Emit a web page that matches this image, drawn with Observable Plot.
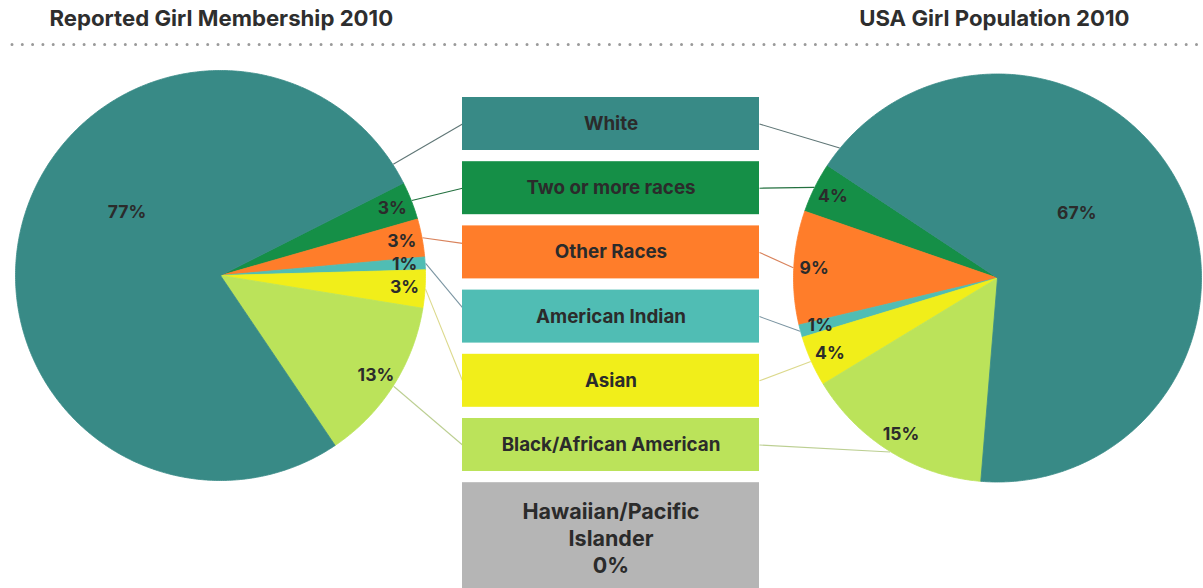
<!DOCTYPE html>
<html>
<head>
<meta charset="utf-8">
<script src="https://cdn.jsdelivr.net/npm/d3@7"></script>
<script src="https://cdn.jsdelivr.net/npm/@observablehq/plot@0.6"></script>
<style>
html, body { margin: 0; padding: 0; background: #ffffff; }
#chart { width: 1203px; height: 588px; overflow: hidden; }
</style>
</head>
<body>
<div id="chart"></div>
<script>
// ---- data ----
const categories = ["White", "Two or more races", "Other Races", "American Indian", "Asian", "Black/African American"];
const membership = [77, 3, 3, 1, 3, 13];   // Reported Girl Membership 2010 (%)
const population = [67, 4, 9, 1, 4, 15];   // USA Girl Population 2010 (%)
const otherCategory = "Hawaiian/Pacific Islander";
const otherValue = 0;
const titles = ["Reported Girl Membership 2010", "USA Girl Population 2010"];
const sliceColors = ["#388a86", "#158f47", "#ff7d2a", "#50bdb4", "#f1ee1a", "#bbe35a"];
const otherColor = "#b5b5b5";
const connectorColors = ["#5f7676", "#23703f", "#d9835c", "#7b95a2", "#dcd98c", "#bccf92"];

// ---- layout ----
const W = 1203, H = 588;
const FONT = "Inter, 'Open Sans', sans-serif";
const TEXT = "#2b2b2b";
const deg = Math.PI / 180;
const box = {x1: 462, x2: 759, top: 97, step: 64.2, h: 53, lastBottom: 610};
const pieLayout = [
  {values: membership, cx: 220, cy: 275, r: 205, start: 63.2, dir: 1, side: "left", bigAngle: 304, bigK: 0.55},
  {values: population, cx: 997, cy: 277.5, r: 204, start: 303.5, dir: -1, side: "right", bigAngle: 51, bigK: 0.5}
];
// small slices first, the large "White" slice last
const order = [1, 2, 3, 4, 5, 0];

const slicePts = [], pctLabels = [], connectors = [];
const boxCenter = i => box.top + i * box.step + box.h / 2;

pieLayout.forEach((p, pi) => {
  const arcs = d3.pie().sort(null).value(d => d.v)
    .startAngle(p.start * deg).endAngle((p.start + p.dir * 360) * deg)(
      order.map(i => ({cat: categories[i], v: p.values[i], idx: i}))
    );
  const pt = (a, rr) => ({x: p.cx + rr * Math.sin(a), y: p.cy - rr * Math.cos(a)});
  arcs.forEach(a => {
    if (a.data.v <= 0) return;
    const id = pi + "-" + a.data.cat;
    const a0 = a.startAngle, a1 = a.endAngle;
    const n = Math.max(2, Math.ceil(Math.abs(a1 - a0) / (0.5 * deg)));
    slicePts.push({id, cat: a.data.cat, x: p.cx, y: p.cy});
    for (let k = 0; k <= n; k++) {
      const q = pt(a0 + (a1 - a0) * k / n, p.r);
      slicePts.push({id, cat: a.data.cat, x: q.x, y: q.y});
    }
    slicePts.push({id, cat: a.data.cat, x: p.cx, y: p.cy});

    const isBig = a.data.idx === 0;
    const mid = (a0 + a1) / 2;
    const lp = isBig ? pt(p.bigAngle * deg, p.r * p.bigK) : pt(mid, p.r * 0.9);
    pctLabels.push({text: a.data.v + "%", x: lp.x, y: lp.y});

    const ca = isBig ? a1 - p.dir * 6 * deg : mid;
    const cp = pt(ca, p.r + 0.5);
    // left-side connectors meet the boxes a little above centre for the middle rows
    const yOff = p.side === "left" && (a.data.idx === 2 || a.data.idx === 3) ? -9 : 0;
    connectors.push({
      x1: cp.x, y1: cp.y,
      x2: p.side === "left" ? box.x1 : box.x2,
      y2: boxCenter(a.data.idx) + yOff,
      stroke: connectorColors[a.data.idx]
    });
  });
});

const boxRows = [...categories, otherCategory].map((cat, i) => ({
  cat,
  label: i < categories.length ? cat : cat.replace(" ", "\n") + "\n" + otherValue + "%",
  y1: box.top + i * box.step,
  y2: i < categories.length ? box.top + i * box.step + box.h : box.lastBottom,
  big: i >= categories.length
}));
boxRows.forEach(d => { d.yc = d.big ? 537 : (d.y1 + d.y2) / 2; });

const chart = Plot.plot({
  width: W, height: H,
  margin: 0,
  style: {fontFamily: FONT, background: "#ffffff", overflow: "hidden"},
  x: {domain: [0, W], range: [0, W], axis: null},
  y: {domain: [0, H], range: [0, H], axis: null},
  color: {domain: [...categories, otherCategory], range: [...sliceColors, otherColor]},
  marks: [
    // dotted separator
    Plot.ruleY([44], {x1: 12, x2: W, stroke: "#9a9a9a", strokeWidth: 3, strokeDasharray: "0,10.3", strokeLinecap: "round"}),
    // titles
    Plot.text([titles[0]], {x: 49, y: 18, text: d => d, textAnchor: "start", fontSize: 22.2, fontWeight: 700, fill: "#2e2e2e"}),
    Plot.text([titles[1]], {x: 1129, y: 18, text: d => d, textAnchor: "end", fontSize: 22.2, fontWeight: 700, fill: "#2e2e2e"}),
    // pie slices
    Plot.line(slicePts, {x: "x", y: "y", z: "id", fill: "cat", stroke: "cat", strokeWidth: 0.8, curve: "linear"}),
    // connector lines
    Plot.link(connectors, {x1: "x1", y1: "y1", x2: "x2", y2: "y2", stroke: "stroke", strokeWidth: 1.1}),
    // legend boxes
    Plot.rect(boxRows, {x1: box.x1, x2: box.x2, y1: "y1", y2: "y2", fill: "cat"}),
    Plot.text(boxRows.filter(d => !d.big), {x: (box.x1 + box.x2) / 2, y: "yc", text: "label", fontSize: 18.8, fontWeight: 700, fill: TEXT}),
    Plot.text(boxRows.filter(d => d.big), {x: (box.x1 + box.x2) / 2, y: "yc", text: "label", fontSize: 21.5, fontWeight: 700, lineHeight: 1.25, fill: TEXT}),
    // percentage labels
    Plot.text(pctLabels, {x: "x", y: "y", text: "text", fontSize: 17.5, fontWeight: 700, fill: TEXT})
  ]
});
document.getElementById("chart").appendChild(chart);
</script>
</body>
</html>
